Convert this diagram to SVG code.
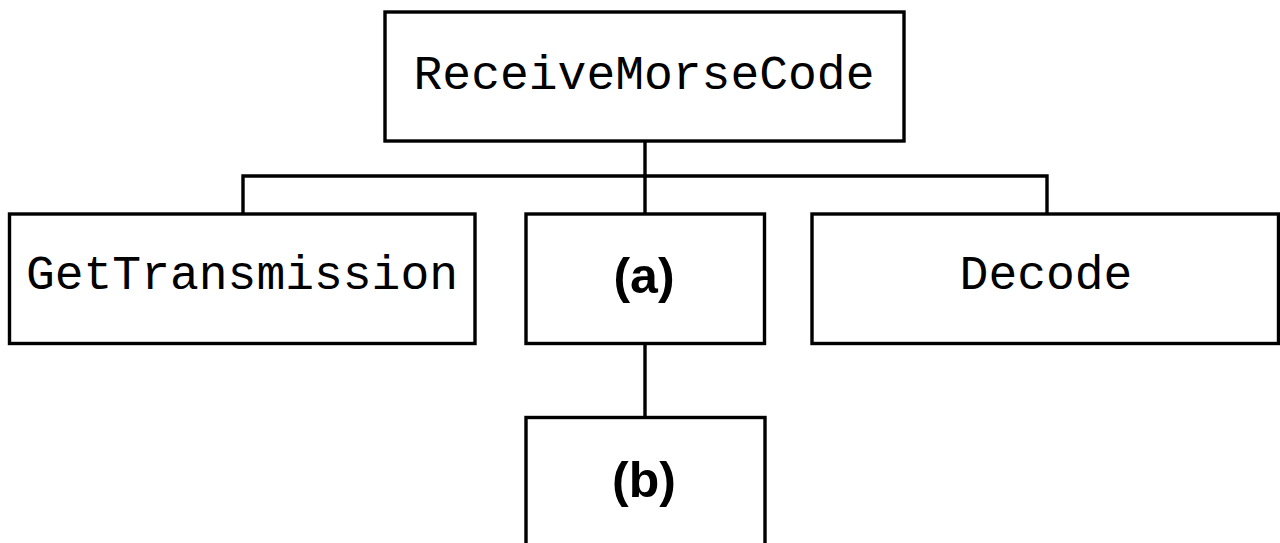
<svg xmlns="http://www.w3.org/2000/svg" width="1280" height="543" viewBox="0 0 1280 543">
<style>
.box{fill:#fff;stroke:#000;stroke-width:3.4}
.conn{fill:none;stroke:#000;stroke-width:3.4}
.mono{font-family:"Nimbus Mono PS","Courier New","Liberation Mono",monospace;font-size:48px;fill:#000;text-anchor:middle}
.bold{font-family:"Liberation Sans",Arial,sans-serif;font-size:50px;font-weight:bold;fill:#000;text-anchor:middle}
</style>
<rect x="0" y="0" width="1280" height="543" fill="#fff"/>
<g id="connectors">
<path class="conn" d="M645 141V176M243 214V176H1047V214M645 176V214M645 343.5V417.5"/>
</g>
<g id="receive">
<rect class="box" x="385" y="12" width="519" height="129"/>
<text class="mono" x="644" y="89">ReceiveMorseCode</text>
</g>
<g id="gettransmission">
<rect class="box" x="9.5" y="214" width="465.5" height="129.5"/>
<text class="mono" x="242" y="289">GetTransmission</text>
</g>
<g id="a">
<rect class="box" x="526" y="214" width="238.5" height="129.5"/>
<text class="bold" x="644" y="293">(a)</text>
</g>
<g id="decode">
<rect class="box" x="812" y="214" width="466.5" height="129.5"/>
<text class="mono" x="1046" y="289">Decode</text>
</g>
<g id="b">
<rect class="box" x="526" y="417.5" width="239" height="150"/>
<text class="bold" x="644" y="497">(b)</text>
</g>
</svg>
